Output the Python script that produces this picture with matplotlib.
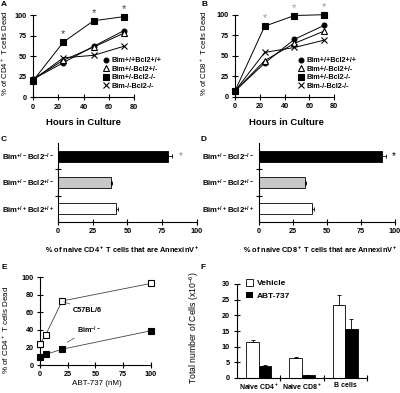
import matplotlib.pyplot as plt
from matplotlib.lines import Line2D
from matplotlib.patches import Patch
import numpy as np

plt.rcParams['font.family'] = ['Liberation Sans', 'DejaVu Sans']
plt.rcParams['font.weight'] = 'bold'
plt.rcParams['axes.labelweight'] = 'bold'
plt.rcParams['mathtext.default'] = 'regular'

# A / B: time course of death
hours = [0, 24, 48, 72]
genotypes = ['Bim+/+Bcl2+/+', 'Bim+/-Bcl2+/-', 'Bim+/-Bcl2-/-', 'Bim-/-Bcl2-/-']
cd4_dead = [[22, 42, 62, 81], [22, 45, 61, 78], [20, 67, 93, 98], [21, 48, 51, 62]]
cd8_dead = [[7, 41, 70, 87], [7, 44, 65, 80], [7, 86, 99, 100], [7, 54, 60, 69]]
star_hours = [24, 48, 72]

# C / D: AnnexinV+ naive cells
bar_labels = [r'Bim$^{+/+}$Bcl2$^{+/+}$', r'Bim$^{+/-}$Bcl2$^{+/-}$', r'Bim$^{+/-}$Bcl2$^{-/-}$']
bar_colors = ['white', '#c8c8c8', 'black']
cd4_annexin = [42, 38, 79]
cd4_annexin_err = [1.3, 1.0, 3.2]
cd8_annexin = [39.4, 33.8, 90.9]
cd8_annexin_err = [1.3, 1.0, 2.5]

# E: ABT-737 dose response
abt_dose = [0, 5, 20, 100]
b6_dead = [24, 34, 73, 93]
bim_ko_dead = [9, 12, 18, 39]

# F: cell numbers
cell_types = [r'Naive CD4$^+$', r'Naive CD8$^+$', 'B cells']
vehicle = [11.5, 6.5, 23.2]
vehicle_err = [0.7, 0.3, 3.3]
abt737 = [3.8, 0.9, 15.7]
abt737_err = [0.5, 0.2, 3.0]

W, H = 400, 393
fig = plt.figure(figsize=(W / 100, H / 100), dpi=100)


def px_axes(l, t, r, b):
    return fig.add_axes([l / W, 1 - b / H, (r - l) / W, (b - t) / H])


def style(ax):
    for s in ['top', 'right']:
        ax.spines[s].set_visible(False)
    for s in ['left', 'bottom']:
        ax.spines[s].set_linewidth(0.8)
    ax.tick_params(direction='inout', length=5, width=0.8, labelsize=5.2, pad=2)


markers = ['o', '^', 's', 'x']
faces = ['black', 'white', 'black', 'black']
sizes = [3.5, 4, 4, 4]


def time_panel(ax, data, cd, star_color):
    style(ax)
    for i, vals in enumerate(data):
        ax.plot(hours, vals, color='black', lw=0.7, marker=markers[i], mfc=faces[i],
                mec='black', ms=sizes[i], mew=0.8, clip_on=False, zorder=3)
    sq = data[2]
    for h in star_hours:
        ax.annotate('*', (h, sq[hours.index(h)]), xytext=(0, 5.5), textcoords='offset points',
                    ha='center', va='center', fontsize=8, color=star_color,
                    fontweight='normal', annotation_clip=False)
    ax.set_xlim(0, 80)
    ax.set_ylim(0, 100)
    ax.set_xticks([0, 20, 40, 60, 80])
    ax.set_yticks([0, 25, 50, 75, 100])
    ax.set_xlabel('Hours in Culture', fontsize=6.8)
    ax.set_ylabel('%% of CD%s$^+$ T cells Dead' % cd, fontsize=5.6, fontweight='normal')
    handles = [Line2D([], [], ls='none', marker=markers[i], mfc=faces[i], mec='black',
                      ms=sizes[i], mew=0.8) for i in range(4)]
    return handles


axA = px_axes(33, 15, 134, 97.3)
hA = time_panel(axA, cd4_dead, '4', '#444444')
axA.xaxis.set_label_coords(0.5, -0.25)
axA.yaxis.set_label_coords(-0.225, 0.54)
axA.legend(hA, genotypes, loc='upper left', bbox_to_anchor=(103 / W, 1 - 57 / H),
           bbox_transform=fig.transFigure, frameon=False, fontsize=5.2, handlelength=0.8,
           handletextpad=0.4, labelspacing=0.2, borderpad=0, borderaxespad=0)

axB = px_axes(235, 14.7, 334, 96.7)
hB = time_panel(axB, cd8_dead, '8', '#999999')
axB.xaxis.set_label_coords(0.52, -0.26)
axB.yaxis.set_label_coords(-0.26, 0.53)
axB.legend(hB, genotypes, loc='upper left', bbox_to_anchor=(298 / W, 1 - 57 / H),
           bbox_transform=fig.transFigure, frameon=False, fontsize=5.2, handlelength=0.8,
           handletextpad=0.4, labelspacing=0.2, borderpad=0, borderaxespad=0)


def annexin_panel(ax, vals, errs, cd, star_color):
    style(ax)
    pos = np.arange(len(vals))
    ax.barh(pos, vals, height=0.42, color=bar_colors, edgecolor='black', linewidth=0.6,
            xerr=[np.zeros(len(errs)), errs], capsize=1.5,
            error_kw=dict(elinewidth=0.6, capthick=0.6, ecolor='black'))
    ax.annotate('*', (vals[2] + errs[2], pos[2]), xytext=(6, 0), textcoords='offset points',
                ha='center', va='center', fontsize=7, color=star_color, fontweight='normal',
                annotation_clip=False)
    ax.set_xlim(0, 100)
    ax.set_ylim(-0.5, 2.5)
    ax.set_xticks([0, 25, 50, 75, 100])
    ax.set_yticks([0.5, 1.5])
    ax.set_yticklabels([])
    ax.set_yticks(pos, minor=True)
    ax.set_yticklabels(bar_labels, minor=True, fontsize=5.6, fontweight='bold')
    ax.tick_params(axis='y', which='minor', length=0, pad=3)
    ax.set_xlabel('%% of naive CD%s$^+$ T cells that are AnnexinV$^+$' % cd, fontsize=5.3)


axC = px_axes(58, 143, 196.7, 222)
annexin_panel(axC, cd4_annexin, cd4_annexin_err, '4', '#888888')
axC.xaxis.set_label_coords(0.465, -0.29)

axD = px_axes(258.7, 143, 394.7, 222)
annexin_panel(axD, cd8_annexin, cd8_annexin_err, '8', 'black')
axD.xaxis.set_label_coords(0.45, -0.29)

# E
axE = px_axes(40, 277.3, 150.7, 365)
style(axE)
axE.plot(abt_dose, b6_dead, color='#444444', lw=0.6, marker='s', mfc='white', mec='black',
         ms=4.5, mew=0.8, clip_on=False, zorder=3)
axE.plot(abt_dose, bim_ko_dead, color='#444444', lw=0.6, marker='s', mfc='black', mec='black',
         ms=4.5, mew=0.8, clip_on=False, zorder=3)
axE.set_xlim(0, 100)
axE.set_ylim(0, 100)
axE.set_xticks([0, 25, 50, 75, 100])
axE.set_yticks([0, 20, 40, 60, 80, 100])
axE.annotate('C57BL/6', xy=(21.5, 72), xytext=(29.5, 62.7), fontsize=5.2,
             va='center', ha='left', arrowprops=dict(arrowstyle='-', lw=0.5, color='#444444',
                                                     shrinkA=0, shrinkB=0))
axE.annotate(r'Bim$^{-/-}$', xy=(24.5, 26), xytext=(33.5, 40), fontsize=5.2,
             va='center', ha='left', arrowprops=dict(arrowstyle='-', lw=0.5, color='#444444',
                                                     shrinkA=0, shrinkB=0))
axE.set_xlabel('ABT-737 (nM)', fontsize=5.8, fontweight='normal')
axE.set_ylabel(r'% of CD4$^+$ T cells Dead', fontsize=5.8, fontweight='normal')
axE.xaxis.set_label_coords(0.515, -0.17)
axE.yaxis.set_label_coords(-0.265, 0.40)

# F
axF = px_axes(237.3, 284, 366.7, 378)
style(axF)
grp = np.arange(len(cell_types)) + 0.5
bw = 0.29
axF.bar(grp - bw / 2, vehicle, width=bw, color='white', edgecolor='black', linewidth=0.6,
        yerr=[np.zeros(3), vehicle_err], capsize=1.5,
        error_kw=dict(elinewidth=0.6, capthick=0.6, ecolor='black'))
axF.bar(grp + bw / 2, abt737, width=bw, color='black', edgecolor='black', linewidth=0.6,
        yerr=[np.zeros(3), abt737_err], capsize=1.5,
        error_kw=dict(elinewidth=0.6, capthick=0.6, ecolor='black'))
axF.set_xlim(0, 3)
axF.set_ylim(0, 30)
axF.set_yticks([0, 5, 10, 15, 20, 25, 30])
axF.set_xticks([1, 2, 3])
axF.set_xticklabels([])
axF.set_xticks(grp, minor=True)
axF.set_xticklabels(cell_types, minor=True, fontsize=5, fontweight='bold')
axF.tick_params(axis='x', which='minor', length=0, pad=3)
axF.tick_params(axis='y', pad=3)
axF.set_ylabel(r'Total number of Cells (x10$^{-6}$)', fontsize=6.2, fontweight='normal')
axF.yaxis.set_label_coords(-0.28, 0.54)
axF.legend([Patch(facecolor='white', edgecolor='black', lw=0.6), Patch(facecolor='black')],
           ['Vehicle', 'ABT-737'], loc='upper left', bbox_to_anchor=(246 / W, 1 - 279 / H),
           bbox_transform=fig.transFigure, frameon=False, fontsize=6, handlelength=0.85,
           handleheight=0.85, handletextpad=0.5, labelspacing=0.55, borderpad=0,
           borderaxespad=0)

for letter, x, y in [('A', 1, 1), ('B', 202, 1), ('C', 1, 136), ('D', 201, 136),
                     ('E', 1, 264), ('F', 201, 264)]:
    fig.text(x / W, 1 - y / H, letter, ha='left', va='top', fontsize=6)

fig.savefig('out.png', dpi=100)
